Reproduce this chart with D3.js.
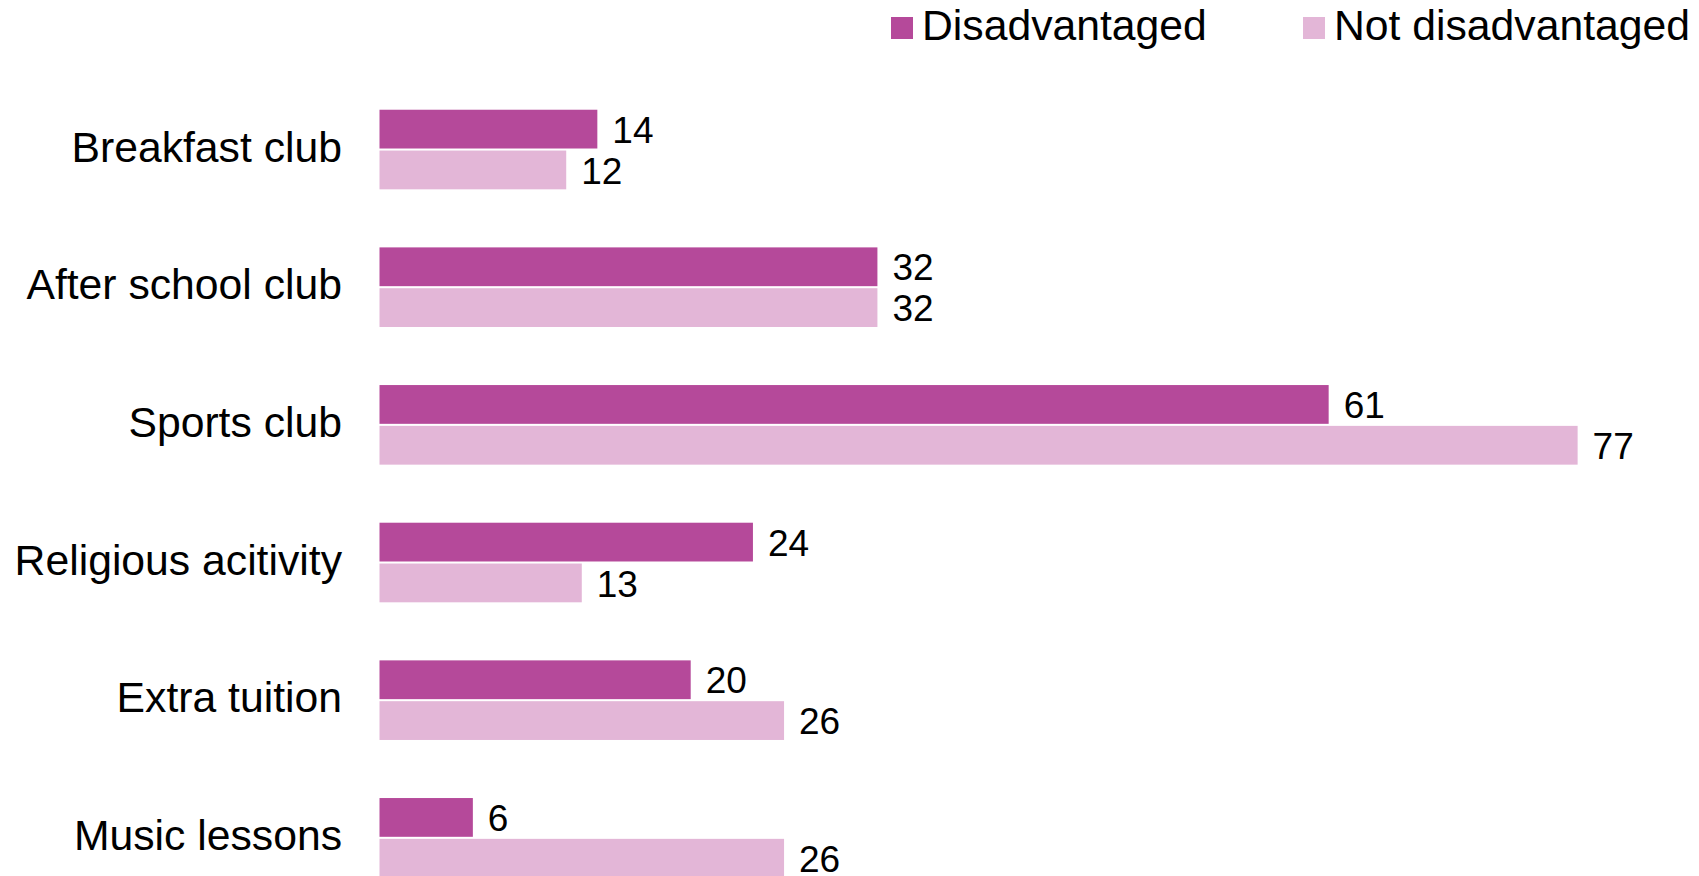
<!DOCTYPE html>
<html>
<head>
<meta charset="utf-8">
<script src="https://cdn.jsdelivr.net/npm/d3@7"></script>
<style>
  body { margin: 0; background: #fff; overflow: hidden; }
  text { font-family: "Liberation Sans", Arial, sans-serif; fill: #000; }
</style>
</head>
<body>
<script>
// data
const categories = ['Breakfast club', 'After school club', 'Sports club', 'Religious acitivity', 'Extra tuition', 'Music lessons'];
const seriesNames = ['Disadvantaged', 'Not disadvantaged'];
const disadvantaged = [14, 32, 61, 24, 20, 6];
const notDisadvantaged = [12, 32, 77, 13, 26, 26];
const colors = ['#b5499a', '#e3b6d7'];

const rows = categories.map((c, i) => ({
  cat: c,
  vals: [disadvantaged[i], notDisadvantaged[i]]
}));

// svg
let svg = d3.select('body').append('svg')
    .attr('width', 1699)
    .attr('height', 876);

// scales
let xScale = d3.scaleLinear()
    .domain([0, 100])
    .range([379.5, 379.5 + 1556]);

let yScale = d3.scaleBand()
    .domain(categories)
    .range([80.7, 80.7 + 6 * 137.66])
    .paddingInner(0.4218)
    .paddingOuter(0.2109);

let subScale = d3.scaleBand()
    .domain([0, 1])
    .range([0, yScale.bandwidth()])
    .paddingInner(0.05);

// category labels
svg.append('g')
  .selectAll('text')
  .data(categories)
  .enter().append('text')
    .attr('x', 342)
    .attr('y', d => yScale(d) + yScale.bandwidth() / 2 + 12)
    .attr('text-anchor', 'end')
    .style('font-size', '42.7px')
    .text(d => d);

// bars
let groups = svg.selectAll('.grp')
    .data(rows)
  .enter().append('g')
    .attr('class', 'grp')
    .attr('transform', d => 'translate(0,' + yScale(d.cat) + ')');

groups.selectAll('rect')
    .data(d => d.vals)
  .enter().append('rect')
    .attr('x', xScale(0))
    .attr('y', (d, i) => subScale(i))
    .attr('width', d => xScale(d) - xScale(0))
    .attr('height', subScale.bandwidth())
    .attr('fill', (d, i) => colors[i]);

groups.selectAll('.val')
    .data(d => d.vals)
  .enter().append('text')
    .attr('class', 'val')
    .attr('x', d => xScale(d) + 15)
    .attr('y', (d, i) => subScale(i) + subScale.bandwidth() / 2)
    .attr('dy', '0.37em')
    .style('font-size', '37px')
    .text(d => d);

// legend
const legendX = [891, 1303];
let legend = svg.selectAll('.leg')
    .data(seriesNames)
  .enter().append('g')
    .attr('class', 'leg')
    .attr('transform', (d, i) => 'translate(' + legendX[i] + ',17)');

legend.append('rect')
    .attr('width', 22)
    .attr('height', 22)
    .attr('fill', (d, i) => colors[i]);

legend.append('text')
    .attr('x', 31)
    .attr('y', 23)
    .style('font-size', '42.7px')
    .text(d => d);
</script>
</body>
</html>
